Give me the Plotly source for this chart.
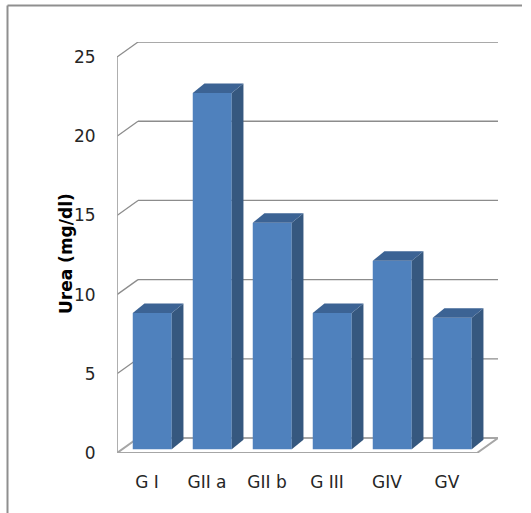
import plotly.graph_objects as go

# Serum urea by group
groups = ["G I", "GII a", "GII b", "G III", "GIV", "GV"]
urea = [8.6, 22.5, 14.3, 8.6, 11.9, 8.3]
y_ticks = [0, 5, 10, 15, 20, 25]

# pseudo-3D geometry in data units
X0, X1 = -0.5, 5.5          # front plane extent
WALL_DX, WALL_DY = 0.35, 0.947   # depth of the chart box
BAR_FRONT = 0.25            # bar front face position as depth fraction
BAR_DX, BAR_DY = 0.195, 0.60     # bar depth
BAR_W = 0.65

FRONT = "#4F81BD"
SIDE = "#36587F"
TOP = "#3C6394"
GRID = "#8C8C8C"

fig = go.Figure()

shapes = []
# back-wall gridlines with their connectors to the left wall
for v in y_ticks[1:]:
    shapes.append(dict(type="line", x0=X0, y0=v, x1=X0 + WALL_DX, y1=v + WALL_DY,
                       line=dict(color=GRID, width=1.3), layer="below"))
    shapes.append(dict(type="line", x0=X0 + WALL_DX, y0=v + WALL_DY, x1=X1 + WALL_DX, y1=v + WALL_DY,
                       line=dict(color=GRID, width=1.3), layer="below"))
# left wall front edge
shapes.append(dict(type="line", x0=X0, y0=0, x1=X0, y1=y_ticks[-1],
                   line=dict(color="#A6A6A6", width=1.8), layer="below"))
# floor slab
shapes.append(dict(type="path",
                   path=f"M {X0},0 L {X1},0 L {X1 + WALL_DX},{WALL_DY} L {X0 + WALL_DX},{WALL_DY} Z",
                   fillcolor="white", line=dict(color="#A6A6A6", width=2), layer="below"))

# bar front faces
fdx, fdy = WALL_DX * BAR_FRONT, WALL_DY * BAR_FRONT
xs = [i + fdx for i in range(len(groups))]
fig.add_trace(go.Bar(x=xs, y=urea, base=fdy, width=BAR_W,
                     marker=dict(color=FRONT, line=dict(width=0)),
                     hoverinfo="skip", showlegend=False))

# side and top faces of each bar
for xc, v in zip(xs, urea):
    l, r = xc - BAR_W / 2, xc + BAR_W / 2
    b, t = fdy, fdy + v
    fig.add_trace(go.Scatter(
        x=[r, r + BAR_DX, r + BAR_DX, r, r], y=[b, b + BAR_DY, t + BAR_DY, t, b],
        fill="toself", fillcolor=SIDE, line=dict(width=0), mode="lines",
        hoverinfo="skip", showlegend=False))
    fig.add_trace(go.Scatter(
        x=[l, r, r + BAR_DX, l + BAR_DX, l], y=[t, t, t + BAR_DY, t + BAR_DY, t],
        fill="toself", fillcolor=TOP, line=dict(width=0), mode="lines",
        hoverinfo="skip", showlegend=False))

# outer chart frame (top and left edges)
W, H = 531, 513
L, R, T, B = 117, 33, 42, 60
pw, ph = W - L - R, H - T - B
def px(x): return (x - L) / pw
def py(y): return (H - B - y) / ph
shapes.append(dict(type="line", xref="paper", yref="paper",
                   x0=px(7.5), y0=py(5.5), x1=px(522), y1=py(5.5),
                   line=dict(color="#8F8F8F", width=2)))
shapes.append(dict(type="line", xref="paper", yref="paper",
                   x0=px(7.5), y0=py(5.5), x1=px(7.5), y1=py(520),
                   line=dict(color="#8F8F8F", width=2)))

font = "DejaVu Sans"
fig.update_layout(
    width=W, height=H,
    margin=dict(l=L, r=R, t=T, b=B),
    paper_bgcolor="white", plot_bgcolor="rgba(0,0,0,0)",
    shapes=shapes,
    barmode="overlay",
    xaxis=dict(range=[X0, X1 + WALL_DX], tickmode="array",
               tickvals=list(range(len(groups))), ticktext=groups,
               showgrid=False, zeroline=False, showline=False,
               ticks="outside", ticklen=14, tickcolor="rgba(0,0,0,0)",
               tickfont=dict(family=font, size=17, color="#262626"), fixedrange=True),
    yaxis=dict(range=[0, 25.95], tickmode="array", tickvals=y_ticks,
               showgrid=False, zeroline=False, showline=False,
               ticks="outside", ticklen=17, tickcolor="rgba(0,0,0,0)",
               tickfont=dict(family=font, size=17, color="#262626"), fixedrange=True),
    annotations=[dict(text="<b>Urea (mg/dl)</b>", textangle=-90,
                      xref="paper", yref="paper", x=px(54), y=py(254),
                      showarrow=False, font=dict(family=font, size=17, color="#000000"))],
)

fig.write_html("out.html")
